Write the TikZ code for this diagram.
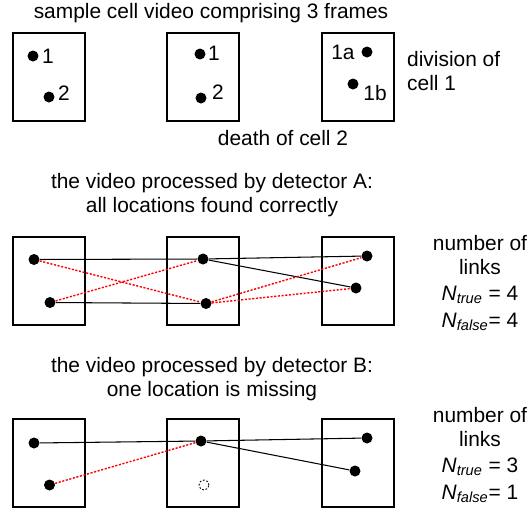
\documentclass[tikz,border=0pt]{standalone}
\usepackage{fontspec}
\setmainfont{Liberation Sans}
\usetikzlibrary{positioning}

\tikzset{
	frame/.style={draw, line width=0.85pt, minimum width=1.45cm, minimum height=1.76cm, inner sep=0pt},
	cell/.style={circle, fill=black, inner sep=0pt, minimum size=0.22cm},
	lost/.style={circle, draw, line width=0.5pt, dash pattern=on 1pt off 1pt, inner sep=0pt, minimum size=0.2cm},
	link/.style={line width=0.6pt},
	falselink/.style={red, line width=0.8pt, dash pattern=on 1.2pt off 0.9pt},
	tag/.style={inner sep=0pt}
}

\begin{document}
\begin{tikzpicture}[x=0.02cm, y=-0.02cm,
		every node/.style={font=\fontsize{11.9}{13.6}\selectfont}]
	\useasboundingbox (0,0) rectangle (531,508);

	% the three frames as they are
	\node (rawtitle) at (211,13) {sample cell video comprising 3 frames};
	\node[frame] (raw1) at (49,77) {};
	\node[frame] (raw2) at (203,77) {};
	\node[frame] (raw3) at (358,77) {};

	\node[cell] (raw11) at (33,56) {};
	\node[cell] (raw12) at (49,97) {};
	\node[cell] (raw21) at (200,54) {};
	\node[cell] (raw22) at (201,98) {};
	\node[cell] (raw31) at (367,52) {};
	\node[cell] (raw32) at (353,84) {};

	\node[tag] (lab11) at (48,56) {1};
	\node[tag] (lab12) at (64,93) {2};
	\node[tag] (lab21) at (214,53) {1};
	\node[tag] (lab22) at (218,92) {2};
	\node[tag] (lab31) at (343,52) {1a};
	\node[tag] (lab32) at (375,93) {1b};

	\node[align=left, anchor=west] (division) at (401,71) {division of\\cell 1};
	\node (death) at (283,138) {death of cell 2};

	% detector A
	\node[align=center] (titleA) at (212,195) {the video processed by detector A:\\all locations found correctly};
	\node[frame] (a1) at (49,281) {};
	\node[frame] (a2) at (203,281) {};
	\node[frame] (a3) at (358,281) {};

	\node[cell] (a11) at (34,259.5) {};
	\node[cell] (a12) at (50,302.5) {};
	\node[cell] (a21) at (203,259) {};
	\node[cell] (a22) at (206,303.5) {};
	\node[cell] (a31) at (367,256) {};
	\node[cell] (a32) at (356,288) {};

	\draw[link] (a11) -- (a21);
	\draw[link] (a21) -- (a31);
	\draw[link] (a21) -- (a32);
	\draw[link] (a12) -- (a22);
	\draw[falselink] (a11) -- (a22);
	\draw[falselink] (a12) -- (a21);
	\draw[falselink] (a22) -- (a31);
	\draw[falselink] (a22) -- (a32);

	\node[align=center] (countA) at (480,283) {number of\\links\\[1.5pt]
		\textit{N}\textsubscript{\textit{true}} = 4\\[1.5pt]
		\textit{N}\textsubscript{\textit{false}}= 4};

	% detector B
	\node[align=center] (titleB) at (212,379) {the video processed by detector B:\\one location is missing};
	\node[frame] (b1) at (49,463) {};
	\node[frame] (b2) at (203,463) {};
	\node[frame] (b3) at (358,463) {};

	\node[cell] (b11) at (34,443) {};
	\node[cell] (b12) at (49.5,485) {};
	\node[cell] (b21) at (201,441) {};
	\node[lost] (b22) at (204,485) {};
	\node[cell] (b31) at (367,438) {};
	\node[cell] (b32) at (355,471) {};

	\draw[link] (b11) -- (b21);
	\draw[link] (b21) -- (b31);
	\draw[link] (b21) -- (b32);
	\draw[falselink] (b12) -- (b21);

	\node[align=center] (countB) at (480,455) {number of\\links\\[1.5pt]
		\textit{N}\textsubscript{\textit{true}} = 3\\[1.5pt]
		\textit{N}\textsubscript{\textit{false}}= 1};
\end{tikzpicture}
\end{document}
